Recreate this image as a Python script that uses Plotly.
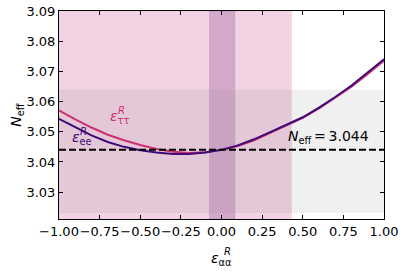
import plotly.graph_objects as go

x_vals = [-1.0, -0.9, -0.8, -0.7, -0.6, -0.5, -0.4, -0.3, -0.2, -0.1, 0.0,
          0.1, 0.2, 0.3, 0.4, 0.5, 0.6, 0.7, 0.8, 0.9, 1.0]
neff_ee = [3.0543, 3.0515, 3.0488, 3.0466, 3.0450, 3.0439, 3.0431, 3.0426, 3.0426, 3.0431, 3.0440,
           3.0455, 3.0475, 3.0499, 3.0524, 3.0548, 3.0580, 3.0615, 3.0653, 3.0695, 3.0740]
neff_tt = [3.0571, 3.0541, 3.0514, 3.0490, 3.0472, 3.0456, 3.0443, 3.0434, 3.0430, 3.0432, 3.0440,
           3.0453, 3.0472, 3.0496, 3.0521, 3.0546, 3.0577, 3.0612, 3.0649, 3.0691, 3.0735]
neff_sm = 3.044

pink_band = [-1.0, 0.433]
purple_band = [-0.074, 0.082]
gray_band = [3.0231, 3.0639]

x_ticks = [-1.0, -0.75, -0.5, -0.25, 0.0, 0.25, 0.5, 0.75, 1.0]
x_tick_labels = ["−1.00", "−0.75", "−0.50", "−0.25", "0.00", "0.25", "0.50", "0.75", "1.00"]
y_ticks = [3.03, 3.04, 3.05, 3.06, 3.07, 3.08, 3.09]
y_tick_labels = ["3.03", "3.04", "3.05", "3.06", "3.07", "3.08", "3.09"]

c_ee = "#3f0a78"
c_tt = "#cc2f72"
font = "DejaVu Sans"

fig = go.Figure()
fig.add_trace(go.Scatter(x=x_vals, y=neff_tt, mode="lines", line=dict(color=c_tt, width=2), showlegend=False))
fig.add_trace(go.Scatter(x=x_vals, y=neff_ee, mode="lines", line=dict(color=c_ee, width=2), showlegend=False))

shapes = [
    dict(type="rect", xref="x", yref="y", x0=-1, x1=1, y0=gray_band[0], y1=gray_band[1],
         fillcolor="rgba(128,128,128,0.12)", line=dict(width=0), layer="below"),
    dict(type="rect", xref="x", yref="paper", x0=pink_band[0], x1=pink_band[1], y0=0, y1=1,
         fillcolor="rgba(195,30,115,0.2)", line=dict(width=0), layer="below"),
    dict(type="rect", xref="x", yref="paper", x0=purple_band[0], x1=purple_band[1], y0=0, y1=1,
         fillcolor="rgba(118,42,131,0.25)", line=dict(width=1, color="rgba(118,42,131,0.12)"), layer="below"),
    dict(type="line", xref="paper", yref="y", x0=0, x1=1, y0=neff_sm, y1=neff_sm,
         line=dict(color="black", width=2, dash="7px,3px"), layer="above"),
]

annotations = [
    dict(x=0.395, y=3.0446, xref="x", yref="y", xanchor="left", yanchor="bottom", showarrow=False,
         text="<i>N</i><sub>eff</sub>\u2009=\u20093.044", font=dict(family=font, size=14, color="black")),
    dict(x=-0.70, y=3.0512, xref="x", yref="y", xanchor="left", yanchor="bottom", showarrow=False,
         text="<i>ε</i><sub>ττ</sub>", font=dict(family=font, size=14, color=c_tt)),
    dict(x=-0.648, y=3.0545, xref="x", yref="y", xanchor="left", yanchor="bottom", showarrow=False,
         text="<i>R</i>", font=dict(family=font, size=10, color=c_tt)),
    dict(x=-0.935, y=3.0443, xref="x", yref="y", xanchor="left", yanchor="bottom", showarrow=False,
         text="<i>ε</i><sub>ee</sub>", font=dict(family=font, size=14, color=c_ee)),
    dict(x=-0.883, y=3.0476, xref="x", yref="y", xanchor="left", yanchor="bottom", showarrow=False,
         text="<i>R</i>", font=dict(family=font, size=10, color=c_ee)),
    dict(x=0.5, y=-0.14, xref="paper", yref="paper", xanchor="center", yanchor="top", showarrow=False,
         text="<i>ε</i><sub>αα</sub>", font=dict(family=font, size=14, color="black")),
    dict(x=0.519, y=-0.122, xref="paper", yref="paper", xanchor="center", yanchor="top", showarrow=False,
         text="<i>R</i>", font=dict(family=font, size=10, color="black")),
    dict(x=-0.13, y=0.5, xref="paper", yref="paper", xanchor="center", yanchor="middle", showarrow=False,
         text="<i>N</i><sub>eff</sub>", textangle=-90, font=dict(family=font, size=14, color="black")),
]

fig.update_layout(
    width=407, height=271,
    margin=dict(l=59, r=23, t=11, b=52, autoexpand=False),
    paper_bgcolor="white", plot_bgcolor="white",
    shapes=shapes, annotations=annotations,
    font=dict(family=font, size=13, color="black"),
    xaxis=dict(range=[-1, 1], tickvals=x_ticks, ticktext=x_tick_labels, ticks="inside", ticklen=4,
               tickangle=0, automargin=False,
               tickcolor="black", showline=True, linecolor="black", linewidth=1, mirror="ticks",
               showgrid=False, zeroline=False, tickfont=dict(family=font, size=13)),
    yaxis=dict(range=[3.0211, 3.09], tickvals=y_ticks, ticktext=y_tick_labels, ticks="inside", ticklen=4,
               automargin=False,
               tickcolor="black", showline=True, linecolor="black", linewidth=1, mirror="ticks",
               showgrid=False, zeroline=False, tickfont=dict(family=font, size=13)),
)

fig.write_html("out.html", config={"displayModeBar": False},
               post_script="document.body.style.margin='0';")
